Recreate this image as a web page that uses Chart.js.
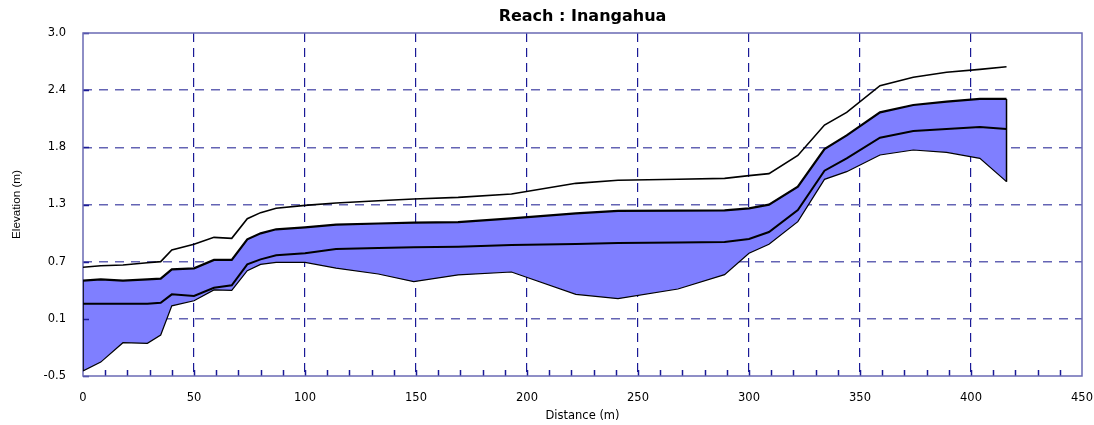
<!DOCTYPE html>
<html>
<head>
<meta charset="utf-8">
<script src="https://cdn.jsdelivr.net/npm/chart.js@4/dist/chart.umd.min.js"></script>
<style>
  html, body { margin: 0; padding: 0; background: #fff; }
  #wrap { width: 1094px; height: 425px; }
</style>
</head>
<body>
<div id="wrap"><canvas id="reachChart" width="1094" height="425"></canvas></div>
<script>
// chainage along the reach (m)
const distance = [0, 8, 18, 29, 35, 40, 50, 59, 67, 74, 80, 87, 100, 114, 133, 149, 169, 193, 222, 241, 268, 289, 300, 309, 322, 334, 344, 359, 374, 389, 404, 416];
// elevation profiles (m)
const topLine = [0.61, 0.625, 0.633, 0.655, 0.667, 0.786, 0.844, 0.915, 0.905, 1.105, 1.167, 1.211, 1.241, 1.265, 1.289, 1.306, 1.323, 1.357, 1.466, 1.497, 1.507, 1.517, 1.545, 1.565, 1.75, 2.061, 2.19, 2.463, 2.548, 2.599, 2.629, 2.656];
const upperLine = [0.473, 0.486, 0.473, 0.486, 0.493, 0.588, 0.599, 0.684, 0.684, 0.895, 0.956, 0.997, 1.017, 1.045, 1.056, 1.065, 1.071, 1.109, 1.16, 1.184, 1.187, 1.19, 1.211, 1.248, 1.432, 1.816, 1.956, 2.19, 2.265, 2.299, 2.327, 2.327];
const midLine = [0.238, 0.238, 0.238, 0.238, 0.248, 0.333, 0.316, 0.401, 0.425, 0.639, 0.69, 0.731, 0.752, 0.795, 0.805, 0.813, 0.82, 0.837, 0.847, 0.857, 0.862, 0.867, 0.898, 0.969, 1.194, 1.595, 1.721, 1.932, 2.0, 2.02, 2.041, 2.02];
const lowLine = [-0.449, -0.358, -0.16, -0.167, -0.082, 0.216, 0.268, 0.378, 0.374, 0.575, 0.639, 0.66, 0.66, 0.6, 0.541, 0.463, 0.531, 0.561, 0.333, 0.289, 0.388, 0.534, 0.752, 0.844, 1.075, 1.507, 1.585, 1.755, 1.806, 1.782, 1.721, 1.483];

const yTickLabels = ['-0.5', '0.1', '0.7', '1.3', '1.8', '2.4', '3.0'];
const yMin = -0.5, yMax = 3.0;
const xMin = 0, xMax = 450;

const pts = arr => arr.map((v, i) => ({ x: distance[i], y: v }));
const last = distance.length - 1;

const navy = '#1a1a96';
const frameBlue = '#6a6ab4';

const decor = {
  id: 'decor',
  beforeDatasetsDraw(chart) {
    const { ctx, chartArea: a, scales: { x, y } } = chart;
    ctx.save();
    // minor ticks on the distance axis
    ctx.strokeStyle = navy;
    ctx.lineWidth = 1.5;
    for (let d = 10; d < xMax; d += 10) {
      const px = Math.round(x.getPixelForValue(d)) + 0.5;
      ctx.beginPath();
      ctx.moveTo(px, a.bottom);
      ctx.lineTo(px, a.bottom - 6);
      ctx.stroke();
    }
    // ticks on elevation axis
    y.ticks.forEach(t => {
      const py = Math.round(y.getPixelForValue(t.value)) + 0.5;
      ctx.beginPath();
      ctx.moveTo(a.left, py);
      ctx.lineTo(a.left + 6, py);
      ctx.stroke();
    });
    ctx.strokeStyle = frameBlue;
    ctx.lineWidth = 1.5;
    ctx.strokeRect(a.left, a.top, a.right - a.left, a.bottom - a.top);
    ctx.restore();
  },
  afterDraw(chart) {
    const { ctx, chartArea: a } = chart;
    ctx.save();
    ctx.fillStyle = '#000';
    ctx.font = 'bold 16px "DejaVu Sans"';
    ctx.textAlign = 'center';
    ctx.textBaseline = 'alphabetic';
    ctx.fillText('Reach : Inangahua', (a.left + a.right) / 2, 20.5);
    ctx.restore();
  }
};

const ctx = document.getElementById('reachChart').getContext('2d');
const reachChart = new Chart(ctx, {
  type: 'line',
  data: {
    datasets: [
      { label: 'top', data: pts(topLine), borderColor: '#000', borderWidth: 1.6, pointRadius: 0, fill: false },
      { label: 'upper', data: pts(upperLine), borderColor: '#000', borderWidth: 2.2, pointRadius: 0, fill: 3, backgroundColor: '#7f7fff' },
      { label: 'mid', data: pts(midLine), borderColor: '#000', borderWidth: 2, pointRadius: 0, fill: false },
      { label: 'low', data: pts(lowLine), borderColor: '#000', borderWidth: 1.2, pointRadius: 0, fill: false },
      { label: 'startEdge', data: [{ x: distance[0], y: upperLine[0] }, { x: distance[0], y: lowLine[0] }], borderColor: '#000', borderWidth: 1.5, pointRadius: 0, fill: false },
      { label: 'endEdge', data: [{ x: distance[last], y: upperLine[last] }, { x: distance[last], y: lowLine[last] }], borderColor: '#000', borderWidth: 1.5, pointRadius: 0, fill: false }
    ]
  },
  options: {
    responsive: false,
    animation: false,
    devicePixelRatio: 1,
    layout: { padding: { top: 33, right: 12, left: 0, bottom: 0 } },
    plugins: {
      legend: { display: false },
      tooltip: { enabled: false },
      filler: { drawTime: 'beforeDatasetsDraw' }
    },
    scales: {
      x: {
        type: 'linear',
        min: xMin,
        max: xMax,
        afterFit: s => { s.height = 49; s.paddingLeft = 0; s.paddingRight = 0; },
        ticks: { stepSize: 50, padding: 15, color: '#000', font: { family: 'DejaVu Sans', size: 11.5 } },
        grid: {
          drawTicks: false,
          lineWidth: 1.2,
          color: c => (c.tick && (c.tick.value === xMin || c.tick.value === xMax)) ? 'rgba(0,0,0,0)' : navy
        },
        border: { display: false, dash: [9, 6] },
        title: { display: true, text: 'Distance (m)', color: '#000', font: { family: 'DejaVu Sans', size: 11.5 }, padding: { top: 0, bottom: 2 } }
      },
      y: {
        type: 'linear',
        min: yMin,
        max: yMax,
        afterFit: s => { s.width = 83; },
        afterBuildTicks: s => {
          const step = (yMax - yMin) / (yTickLabels.length - 1);
          s.ticks = yTickLabels.map((_, i) => ({ value: yMin + i * step }));
        },
        ticks: {
          padding: 17,
          color: '#000',
          font: { family: 'DejaVu Sans', size: 11.5 },
          callback: (v, i) => yTickLabels[i]
        },
        grid: {
          drawTicks: false,
          lineWidth: 1.5,
          color: c => (c.index === 0 || c.index === yTickLabels.length - 1) ? 'rgba(0,0,0,0)' : '#6464b4'
        },
        border: { display: false, dash: [9, 7] },
        title: { display: true, text: 'Elevation (m)', color: '#000', font: { family: 'Liberation Sans', size: 11.7 }, padding: { top: 10, bottom: 0 } }
      }
    }
  },
  plugins: [decor]
});
</script>
</body>
</html>
